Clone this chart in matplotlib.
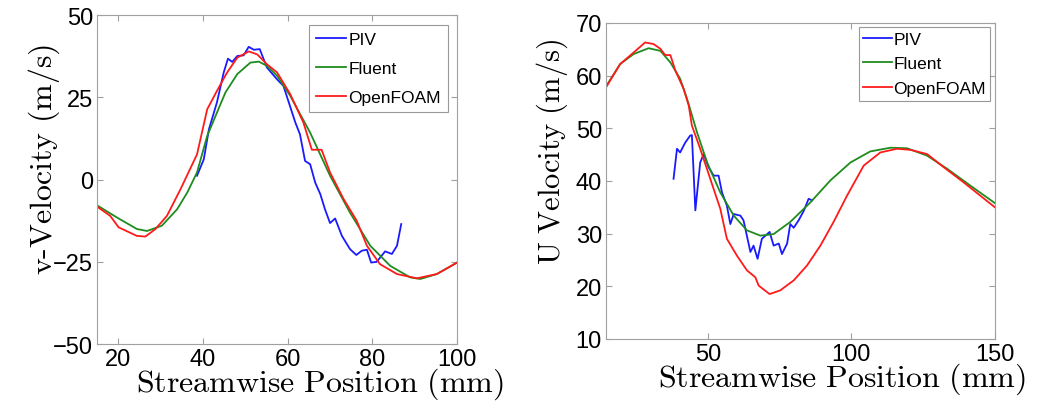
import numpy as np
import matplotlib
matplotlib.use("Agg")
import matplotlib.pyplot as plt

plt.rcParams["font.family"] = ["Liberation Sans", "DejaVu Sans"]
plt.rcParams["mathtext.fontset"] = "cm"

# left panel: v-velocity
v_piv_x = [38.6, 40.2, 41.4, 43.3, 44.9, 45.9, 46.9, 48.1, 49.6, 50.8, 52.0, 53.4, 55.1,
           57.5, 59.0, 61.8, 62.9, 64.1, 65.3, 66.5, 67.7, 68.8, 70.0, 71.2, 72.8, 74.7,
           76.2, 77.5, 78.7, 79.7, 81.0, 83.0, 84.6, 85.8, 86.8]
v_piv_y = [1.2, 6.2, 15.3, 23.5, 32.6, 36.8, 35.8, 37.6, 37.8, 40.4, 39.5, 39.7, 34.1,
           30.5, 28.5, 17.4, 13.8, 5.7, 4.7, -0.9, -4.4, -9.0, -13.2, -11.8, -17.1, -21.1,
           -22.9, -21.6, -21.3, -25.2, -25.0, -21.8, -22.6, -20.1, -13.5]
v_flu_x = [15, 19.7, 24.4, 26.8, 30.3, 33.9, 36.3, 38.6, 41.0, 43.3, 45.3, 48.1, 51.2,
           53.2, 55.1, 57.5, 60.6, 65.3, 70.0, 74.7, 79.5, 84.2, 88.9, 91.3, 95.2, 100]
v_flu_y = [-7.8, -11.5, -15.0, -15.6, -14.0, -9.0, -3.9, 2.2, 13.3, 20.4, 26.5, 32.1, 35.6,
           35.9, 34.6, 31.6, 25.5, 14.3, 1.2, -10.0, -20.1, -26.2, -29.7, -30.2, -28.7, -25.2]
v_of_x = [15, 18.1, 20.1, 24.4, 26.4, 28.8, 31.5, 34.7, 38.6, 41.0, 43.3, 45.7, 48.1,
          50.8, 52.8, 55.1, 57.5, 60.6, 63.7, 65.7, 68.0, 70.0, 73.2, 76.3, 78.7, 81.8,
          85.8, 90.5, 95.2, 100]
v_of_y = [-8.2, -11.0, -14.5, -17.1, -17.3, -15.0, -11.0, -2.9, 7.7, 21.4, 27.0, 32.6, 37.1,
          39.0, 38.1, 35.1, 32.6, 26.0, 17.4, 9.1, 9.1, 2.2, -5.9, -12.5, -20.1, -25.7,
          -28.7, -30.0, -28.7, -25.2]

# right panel: U velocity
u_piv_x = [38.0, 39.2, 40.3, 42.1, 43.8, 44.4, 45.6, 47.3, 48.5, 50.2, 52.0, 53.7, 54.9,
           56.6, 57.8, 59.0, 61.3, 62.4, 64.8, 65.9, 67.3, 68.8, 71.5, 72.9, 74.7, 75.8,
           77.6, 78.7, 79.9, 81.6, 83.4, 85.1, 86.3]
u_piv_y = [40.4, 46.1, 45.4, 47.3, 48.6, 48.7, 34.4, 43.5, 45.1, 42.6, 41.0, 41.0, 37.8,
           35.3, 31.8, 33.7, 33.4, 32.5, 26.5, 27.7, 25.2, 29.0, 30.3, 27.7, 28.1, 26.1,
           28.1, 31.8, 31.1, 32.5, 34.3, 36.6, 36.3]
u_flu_x = [14.5, 19.4, 24.1, 29.3, 33.4, 36.9, 40.3, 42.7, 46.2, 49.7, 54.3, 59.0, 63.6,
           68.3, 72.9, 78.7, 85.7, 92.7, 99.7, 106.6, 113.6, 119.4, 126.4, 133.4, 141.5, 150]
u_flu_y = [58.0, 62.2, 64.1, 65.2, 64.7, 62.5, 59.4, 55.6, 49.2, 43.5, 37.8, 33.4, 30.6,
           29.6, 29.9, 32.2, 35.9, 40.1, 43.5, 45.6, 46.3, 46.2, 44.8, 42.3, 39.1, 35.8]
u_of_x = [14.5, 19.4, 24.1, 28.1, 31.0, 33.4, 35.1, 36.9, 38.6, 41.5, 43.3, 44.4, 47.3,
          50.8, 54.3, 56.6, 60.1, 63.6, 66.5, 67.7, 71.5, 75.2, 79.9, 84.5, 89.2, 93.8,
          98.5, 104.3, 110.1, 115.9, 120.6, 126.4, 132.2, 139.2, 150]
u_of_y = [57.8, 62.2, 64.4, 66.3, 66.0, 65.1, 63.9, 63.9, 61.0, 57.5, 54.3, 50.5, 46.1,
          40.4, 34.7, 29.0, 25.8, 23.0, 21.7, 20.1, 18.5, 19.2, 21.1, 23.9, 27.7, 32.2,
          37.2, 42.9, 45.4, 46.1, 45.9, 45.1, 42.6, 39.7, 35.0]

labels = ["PIV", "Fluent", "OpenFOAM"]
colors = ["#1a1aff", "#1e8c1e", "#ff1a1a"]

fig = plt.figure(figsize=(10.56, 4.06), dpi=100)
ax1 = fig.add_axes([0.0919, 0.150, 0.341, 0.810])
ax2 = fig.add_axes([0.574, 0.163, 0.368, 0.778])

panels = [
    (ax1, [(v_piv_x, v_piv_y), (v_flu_x, v_flu_y), (v_of_x, v_of_y)]),
    (ax2, [(u_piv_x, u_piv_y), (u_flu_x, u_flu_y), (u_of_x, u_of_y)]),
]
for ax, series in panels:
    for (x, y), lab, c in zip(series, labels, colors):
        ax.plot(x, y, color=c, lw=1.3, label=lab)
    for s in ax.spines.values():
        s.set_color("#a0a0a0")
    ax.tick_params(direction="in", top=True, right=True, length=4, width=0.8,
                   color="#a0a0a0", labelsize=17, pad=3)

leg1 = ax1.legend(loc="upper right", fontsize=12.5, fancybox=False, handlelength=1.75,
                  handletextpad=0.1, borderpad=0.4, labelspacing=0.8, borderaxespad=0.55)
leg2 = ax2.legend(loc="upper right", fontsize=12.5, fancybox=False, handlelength=1.65,
                  handletextpad=0.1, borderpad=0.25, labelspacing=0.55, borderaxespad=0.25)
for leg in (leg1, leg2):
    leg.get_frame().set_edgecolor("#808080")
    leg.get_frame().set_linewidth(0.8)

ax1.set_xlim(15, 100)
ax1.set_ylim(-50, 50)
ax1.set_xticks([20, 40, 60, 80, 100])
ax1.set_yticks([-50, -25, 0, 25, 50])
ax1.set_xlabel(r"$\mathrm{Streamwise\ Position\ (mm)}$", fontsize=23)
ax1.xaxis.set_label_coords(0.62, -0.065)
ax1.set_ylabel(r"$\mathrm{v\text{-}Velocity\ (m/s)}$", fontsize=23)
ax1.yaxis.set_label_coords(-0.097, 0.565)

ax2.set_xlim(14.5, 150)
ax2.set_ylim(10, 70)
ax2.set_xticks([50, 100, 150])
ax2.set_yticks([10, 20, 30, 40, 50, 60, 70])
ax2.set_xlabel(r"$\mathrm{Streamwise\ Position\ (mm)}$", fontsize=23)
ax2.xaxis.set_label_coords(0.607, -0.07)
ax2.set_ylabel(r"$\mathrm{U\ Velocity\ (m/s)}$", fontsize=22)
ax2.yaxis.set_label_coords(-0.093, 0.595)

fig.savefig("out.png", dpi=100)
